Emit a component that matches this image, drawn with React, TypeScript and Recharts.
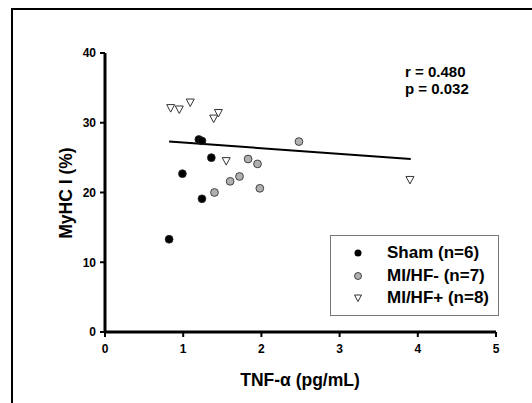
import React from 'react';
import {
  ScatterChart, Scatter, XAxis, YAxis, ReferenceLine, Label
} from 'recharts';

const shamData = [
  { x: 0.82, y: 13.3 },
  { x: 0.99, y: 22.7 },
  { x: 1.2, y: 27.6 },
  { x: 1.24, y: 27.4 },
  { x: 1.36, y: 25.0 },
  { x: 1.24, y: 19.1 },
];

const miHfMinusData = [
  { x: 1.4, y: 20.0 },
  { x: 1.6, y: 21.6 },
  { x: 1.72, y: 22.3 },
  { x: 1.83, y: 24.8 },
  { x: 1.95, y: 24.1 },
  { x: 1.98, y: 20.6 },
  { x: 2.48, y: 27.3 },
];

const miHfPlusData = [
  { x: 0.84, y: 32.1 },
  { x: 0.95, y: 31.9 },
  { x: 1.09, y: 32.9 },
  { x: 1.39, y: 30.6 },
  { x: 1.45, y: 31.4 },
  { x: 1.55, y: 24.5 },
  { x: 3.9, y: 21.8 },
];

const fitLine = [
  { x: 0.82, y: 27.3 },
  { x: 3.91, y: 24.8 },
];

const xTicks = [0, 1, 2, 3, 4, 5];
const yTicks = [0, 10, 20, 30, 40];

const seriesNames = ['Sham (n=6)', 'MI/HF- (n=7)', 'MI/HF+ (n=8)'];
const statLines = ['r = 0.480', 'p = 0.032'];

const FONT = '"Liberation Sans", Arial, sans-serif';

const Triangle = (props: any) => {
  const { cx, cy } = props;
  if (cx == null || cy == null) return null;
  return (
    <path
      d={`M${cx - 4},${cy - 3.5} L${cx + 4},${cy - 3.5} L${cx},${cy + 4} Z`}
      fill="#fff"
      stroke="#333"
      strokeWidth={1}
    />
  );
};

const Dot = (fill: string) => (props: any) => {
  const { cx, cy } = props;
  if (cx == null || cy == null) return null;
  return <circle cx={cx} cy={cy} r={3.9} fill={fill} stroke="#222" strokeWidth={0.8} />;
};

const LegendBox = () => (
  <div
    style={{
      position: 'absolute',
      left: 330,
      top: 235,
      width: 169,
      height: 81,
      border: '1px solid #777',
      background: '#fff',
      fontFamily: FONT,
      fontWeight: 'bold',
      fontSize: 17,
      color: '#000',
      boxSizing: 'border-box',
      paddingTop: 6,
    }}
  >
    {seriesNames.map((name, i) => (
      <div key={name} style={{ display: 'flex', alignItems: 'center', height: 22.5 }}>
        <svg width={56} height={14}>
          {i === 0 && <circle cx={27} cy={7} r={3.5} fill="#000" />}
          {i === 1 && <circle cx={27} cy={7} r={3.5} fill="#b0b0b0" stroke="#222" strokeWidth={0.8} />}
          {i === 2 && <path d="M23.5,4 L30.5,4 L27,10.5 Z" fill="#fff" stroke="#333" strokeWidth={1} />}
        </svg>
        <span>{name}</span>
      </div>
    ))}
  </div>
);

export default function App() {
  return (
    <div style={{ position: 'absolute', left: 0, top: 0, width: 532, height: 403, overflow: 'hidden', background: '#fff' }}>
      <div
        style={{
          position: 'absolute',
          left: 11,
          top: 8,
          width: 600,
          height: 500,
          border: '2px solid #000',
        }}
      />
      <ScatterChart
        width={532}
        height={403}
        margin={{ top: 53, right: 36, left: 45, bottom: 41 }}
        style={{ position: 'absolute', left: 0, top: 0 }}
      >
        <XAxis
          type="number"
          dataKey="x"
          domain={[0, 5]}
          ticks={xTicks}
          height={30}
          axisLine={{ stroke: '#000', strokeWidth: 3 }}
          tickLine={{ stroke: '#000', strokeWidth: 2 }}
          tickSize={5}
          tickMargin={7}
          tick={{ fill: '#000', fontSize: 12, fontWeight: 'bold', fontFamily: FONT }}
        >
          <Label
            content={() => (
              <text x={300} y={386} textAnchor="middle" fontFamily={FONT} fontWeight="bold" fontSize={17.5} fill="#000">
                TNF-α (pg/mL)
              </text>
            )}
          />
        </XAxis>
        <YAxis
          type="number"
          dataKey="y"
          domain={[0, 40]}
          ticks={yTicks}
          width={60}
          axisLine={{ stroke: '#000', strokeWidth: 3 }}
          tickLine={{ stroke: '#000', strokeWidth: 2 }}
          tickSize={5}
          tickMargin={4}
          tick={{ fill: '#000', fontSize: 12, fontWeight: 'bold', fontFamily: FONT }}
        >
          <Label
            content={() => (
              <text
                x={72}
                y={193}
                transform="rotate(-90 72 193)"
                textAnchor="middle"
                fontFamily={FONT}
                fontWeight="bold"
                fontSize={17.5}
                fill="#000"
              >
                MyHC I (%)
              </text>
            )}
          />
        </YAxis>
        <ReferenceLine
          segment={fitLine}
          stroke="#000"
          strokeWidth={2}
        />
        <ReferenceLine
          y={40}
          stroke="none"
          label={() => (
            <g>
              {statLines.map((t, i) => (
                <text key={t} x={405} y={77 + i * 17} fontFamily={FONT} fontWeight="bold" fontSize={15} fill="#000">
                  {t}
                </text>
              ))}
            </g>
          )}
        />
        <Scatter name={seriesNames[0]} data={shamData} shape={Dot('#000')} isAnimationActive={false} />
        <Scatter name={seriesNames[1]} data={miHfMinusData} shape={Dot('#b0b0b0')} isAnimationActive={false} />
        <Scatter name={seriesNames[2]} data={miHfPlusData} shape={<Triangle />} isAnimationActive={false} />
      </ScatterChart>
      <LegendBox />
    </div>
  );
}
